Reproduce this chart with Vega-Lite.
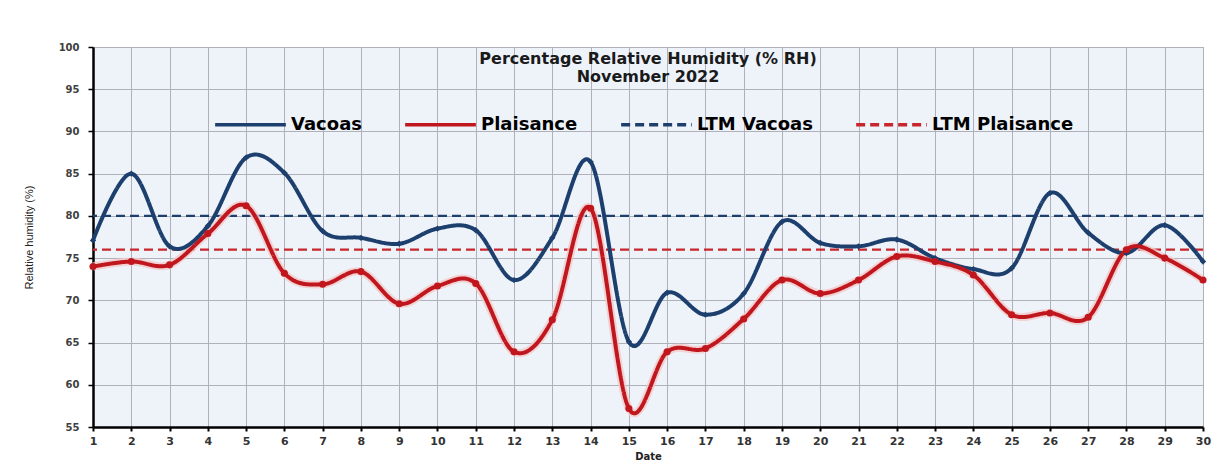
{
  "$schema": "https://vega.github.io/schema/vega-lite/v6.json",
  "width": 1110,
  "height": 380,
  "autosize": {"type": "none"},
  "padding": {"left": 93, "top": 47, "right": 21, "bottom": 48},
  "background": "white",
  "config": {
    "view": {"fill": "#eef3fa", "stroke": "#aaaaaa", "strokeWidth": 1},
    "font": "DejaVu Sans"
  },
  "title": {
    "text": ["Percentage Relative Humidity (% RH)", "November 2022"],
    "font": "DejaVu Sans",
    "fontSize": 16,
    "fontWeight": "bold",
    "color": "#1a1a1a",
    "anchor": "middle",
    "frame": "group",
    "offset": -43,
    "lineHeight": 18
  },
  "datasets": {
    "rh": [
      {"day": 1, "series": "Vacoas", "value": 77.1},
      {"day": 2, "series": "Vacoas", "value": 85.0},
      {"day": 3, "series": "Vacoas", "value": 76.4},
      {"day": 4, "series": "Vacoas", "value": 78.8},
      {"day": 5, "series": "Vacoas", "value": 86.9},
      {"day": 6, "series": "Vacoas", "value": 85.1},
      {"day": 7, "series": "Vacoas", "value": 78.2},
      {"day": 8, "series": "Vacoas", "value": 77.4},
      {"day": 9, "series": "Vacoas", "value": 76.7},
      {"day": 10, "series": "Vacoas", "value": 78.5},
      {"day": 11, "series": "Vacoas", "value": 78.3},
      {"day": 12, "series": "Vacoas", "value": 72.4},
      {"day": 13, "series": "Vacoas", "value": 77.4},
      {"day": 14, "series": "Vacoas", "value": 86.4},
      {"day": 15, "series": "Vacoas", "value": 65.1},
      {"day": 16, "series": "Vacoas", "value": 70.9},
      {"day": 17, "series": "Vacoas", "value": 68.3},
      {"day": 18, "series": "Vacoas", "value": 70.8},
      {"day": 19, "series": "Vacoas", "value": 79.3},
      {"day": 20, "series": "Vacoas", "value": 76.8},
      {"day": 21, "series": "Vacoas", "value": 76.4},
      {"day": 22, "series": "Vacoas", "value": 77.2},
      {"day": 23, "series": "Vacoas", "value": 75.0},
      {"day": 24, "series": "Vacoas", "value": 73.7},
      {"day": 25, "series": "Vacoas", "value": 73.8},
      {"day": 26, "series": "Vacoas", "value": 82.7},
      {"day": 27, "series": "Vacoas", "value": 78.0},
      {"day": 28, "series": "Vacoas", "value": 75.6},
      {"day": 29, "series": "Vacoas", "value": 78.9},
      {"day": 30, "series": "Vacoas", "value": 74.6},
      {"day": 1, "series": "Plaisance", "value": 74.0},
      {"day": 2, "series": "Plaisance", "value": 74.6},
      {"day": 3, "series": "Plaisance", "value": 74.2},
      {"day": 4, "series": "Plaisance", "value": 77.9},
      {"day": 5, "series": "Plaisance", "value": 81.2},
      {"day": 6, "series": "Plaisance", "value": 73.2},
      {"day": 7, "series": "Plaisance", "value": 71.9},
      {"day": 8, "series": "Plaisance", "value": 73.4},
      {"day": 9, "series": "Plaisance", "value": 69.6},
      {"day": 10, "series": "Plaisance", "value": 71.7},
      {"day": 11, "series": "Plaisance", "value": 72.0},
      {"day": 12, "series": "Plaisance", "value": 63.9},
      {"day": 13, "series": "Plaisance", "value": 67.7},
      {"day": 14, "series": "Plaisance", "value": 80.9},
      {"day": 15, "series": "Plaisance", "value": 57.2},
      {"day": 16, "series": "Plaisance", "value": 63.9},
      {"day": 17, "series": "Plaisance", "value": 64.3},
      {"day": 18, "series": "Plaisance", "value": 67.8},
      {"day": 19, "series": "Plaisance", "value": 72.4},
      {"day": 20, "series": "Plaisance", "value": 70.8},
      {"day": 21, "series": "Plaisance", "value": 72.4},
      {"day": 22, "series": "Plaisance", "value": 75.2},
      {"day": 23, "series": "Plaisance", "value": 74.6},
      {"day": 24, "series": "Plaisance", "value": 73.0},
      {"day": 25, "series": "Plaisance", "value": 68.3},
      {"day": 26, "series": "Plaisance", "value": 68.5},
      {"day": 27, "series": "Plaisance", "value": 68.0},
      {"day": 28, "series": "Plaisance", "value": 76.0},
      {"day": 29, "series": "Plaisance", "value": 75.0},
      {"day": 30, "series": "Plaisance", "value": 72.4}
    ],
    "ltm": [
      {"series": "LTM Vacoas", "value": 80},
      {"series": "LTM Plaisance", "value": 76}
    ]
  },
  "encoding": {
    "x": {
      "field": "day",
      "type": "quantitative",
      "title": "Date",
      "scale": {"domain": [1, 30], "nice": false, "zero": false},
      "axis": {
        "values": [1,2,3,4,5,6,7,8,9,10,11,12,13,14,15,16,17,18,19,20,21,22,23,24,25,26,27,28,29,30],
        "format": "d",
        "grid": true,
        "gridColor": "#b0b0b8",
        "gridWidth": 1,
        "domainColor": "#000000",
        "domainWidth": 2.5,
        "tickColor": "#000000",
        "tickWidth": 2,
        "tickSize": 4,
        "labelFont": "DejaVu Sans",
        "labelFontSize": 11,
        "labelFontWeight": "bold",
        "labelColor": "#333333",
        "labelPadding": 4,
        "labelFlush": false,
        "titleFont": "DejaVu Sans",
        "titleFontSize": 10,
        "titleFontWeight": "bold",
        "titleColor": "#222222",
        "titlePadding": 5
      }
    },
    "y": {
      "field": "value",
      "type": "quantitative",
      "title": "Relative humidity (%)",
      "scale": {"domain": [55, 100], "nice": false, "zero": false},
      "axis": {
        "values": [55,60,65,70,75,80,85,90,95,100],
        "grid": true,
        "gridColor": "#b0b0b8",
        "gridWidth": 1,
        "domainColor": "#000000",
        "domainWidth": 2.5,
        "tickColor": "#000000",
        "tickWidth": 1.5,
        "tickSize": 5,
        "labelFont": "DejaVu Sans",
        "labelFontSize": 10,
        "labelFontWeight": "bold",
        "labelColor": "#404040",
        "labelPadding": 9,
        "labelFlush": false,
        "titleFont": "Liberation Sans",
        "titleFontSize": 11,
        "titleFontWeight": "normal",
        "titleColor": "#222222",
        "titlePadding": 24
      }
    }
  },
  "layer": [
    {
      "data": {"name": "ltm"},
      "mark": {"type": "rule", "strokeWidth": 2.2},
      "encoding": {
        "x": null,
        "y": {"field": "value", "type": "quantitative"},
        "color": {"field": "series", "type": "nominal"},
        "strokeDash": {"field": "series", "type": "nominal"}
      }
    },
    {
      "data": {"name": "rh"},
      "transform": [{"filter": "datum.series === 'Plaisance'"}],
      "mark": {"type": "line", "interpolate": "cardinal", "strokeWidth": 8, "color": "#f4c9c9", "opacity": 0.8},
      "encoding": {}
    },
    {
      "data": {"name": "rh"},
      "mark": {"type": "line", "interpolate": "cardinal", "strokeWidth": 4},
      "encoding": {
        "color": {
          "field": "series",
          "type": "nominal",
          "scale": {
            "domain": ["Vacoas", "Plaisance", "LTM Vacoas", "LTM Plaisance"],
            "range": ["#1c3f6e", "#c0161e", "#1c3f6e", "#c8262c"]
          },
          "legend": {
            "title": null,
            "orient": "none",
            "direction": "horizontal",
            "legendX": 120,
            "legendY": 40,
            "symbolType": "stroke",
            "symbolSize": 5000,
            "symbolStrokeWidth": 3.5,
            "labelFont": "DejaVu Sans",
            "labelFontSize": 18,
            "labelFontWeight": "bold",
            "labelColor": "#000000",
            "labelOffset": 3,
            "columnPadding": 36,
            "labelLimit": 300
          }
        },
        "strokeDash": {
          "field": "series",
          "type": "nominal",
          "scale": {
            "domain": ["Vacoas", "Plaisance", "LTM Vacoas", "LTM Plaisance"],
            "range": [[1, 0], [1, 0], [9, 5], [9, 5]]
          }
        }
      }
    },
    {
      "data": {"name": "rh"},
      "transform": [{"filter": "datum.series === 'Vacoas'"}],
      "mark": {"type": "point", "shape": "diamond", "filled": true, "size": 40, "color": "#1c3f6e", "opacity": 1},
      "encoding": {}
    },
    {
      "data": {"name": "rh"},
      "transform": [{"filter": "datum.series === 'Plaisance'"}],
      "mark": {"type": "point", "shape": "circle", "filled": true, "size": 50, "color": "#c0161e", "opacity": 1},
      "encoding": {}
    }
  ]
}
